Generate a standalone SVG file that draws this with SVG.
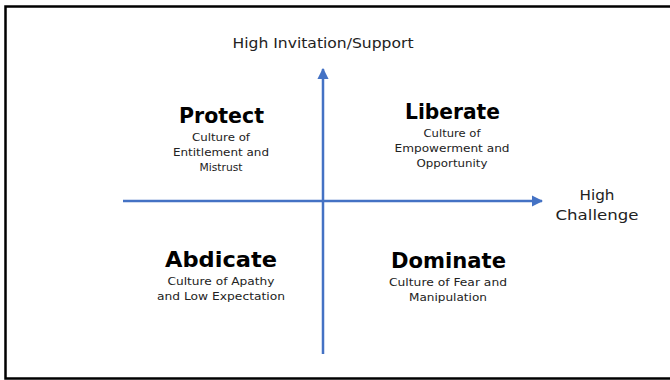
<svg xmlns="http://www.w3.org/2000/svg" width="670" height="380" viewBox="0 0 670 380">
<style>
text{font-family:"DejaVu Sans","Liberation Sans",sans-serif;fill:#222;text-anchor:middle}
.h{font-size:22px;font-weight:bold;fill:#000}
.s{font-size:11px}
.a{font-size:14px}
.ax{stroke:#4472C4;stroke-width:2.5;fill:none}
</style>
<defs>
<marker id="ah" viewBox="0 0 10 10" refX="9" refY="5" markerWidth="4.5" markerHeight="4.5" orient="auto" markerUnits="strokeWidth">
<path d="M0,0 L10,5 L0,10 z" fill="#4472C4"/>
</marker>
</defs>
<rect x="5.5" y="6.5" width="670" height="372" fill="#fff" stroke="#000" stroke-width="2.5"/>
<g id="connectors">
<line class="ax" x1="323" y1="354" x2="323" y2="69" marker-end="url(#ah)"/>
<line class="ax" x1="123" y1="201" x2="542" y2="201" marker-end="url(#ah)"/>
</g>
<g id="label-y"><text class="a" x="323" y="48" textLength="181" lengthAdjust="spacingAndGlyphs">High Invitation/Support</text></g>
<g id="label-x"><text class="a" x="597" y="200" textLength="35" lengthAdjust="spacingAndGlyphs">High</text><text class="a" x="597" y="220" textLength="83" lengthAdjust="spacingAndGlyphs">Challenge</text></g>
<g id="protect">
<text class="h" x="221.5" y="123" textLength="85" lengthAdjust="spacingAndGlyphs">Protect</text>
<text class="s" x="221" y="141" textLength="58" lengthAdjust="spacingAndGlyphs">Culture of</text>
<text class="s" x="221" y="156" textLength="96" lengthAdjust="spacingAndGlyphs">Entitlement and</text>
<text class="s" x="221" y="171" textLength="43" lengthAdjust="spacingAndGlyphs">Mistrust</text>
</g>
<g id="liberate">
<text class="h" x="452.5" y="119" textLength="95" lengthAdjust="spacingAndGlyphs">Liberate</text>
<text class="s" x="452" y="137" textLength="57" lengthAdjust="spacingAndGlyphs">Culture of</text>
<text class="s" x="452" y="152" textLength="115" lengthAdjust="spacingAndGlyphs">Empowerment and</text>
<text class="s" x="452" y="167" textLength="71" lengthAdjust="spacingAndGlyphs">Opportunity</text>
</g>
<g id="abdicate">
<text class="h" x="221" y="267" textLength="112" lengthAdjust="spacingAndGlyphs">Abdicate</text>
<text class="s" x="221" y="285" textLength="107" lengthAdjust="spacingAndGlyphs">Culture of Apathy</text>
<text class="s" x="221" y="300" textLength="128" lengthAdjust="spacingAndGlyphs">and Low Expectation</text>
</g>
<g id="dominate">
<text class="h" x="448.5" y="268" textLength="115" lengthAdjust="spacingAndGlyphs">Dominate</text>
<text class="s" x="448" y="286" textLength="118" lengthAdjust="spacingAndGlyphs">Culture of Fear and</text>
<text class="s" x="448" y="301" textLength="78" lengthAdjust="spacingAndGlyphs">Manipulation</text>
</g>
</svg>
